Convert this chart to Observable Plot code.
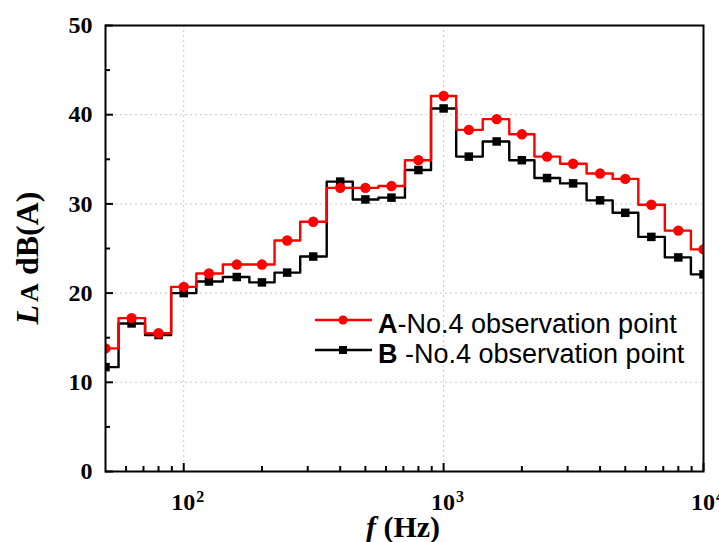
<!DOCTYPE html>
<html>
<head>
<meta charset="utf-8">
<script src="https://cdn.jsdelivr.net/npm/d3@7"></script>
<script src="https://cdn.jsdelivr.net/npm/@observablehq/plot@0.6"></script>
<style>
  html, body { margin: 0; padding: 0; background: #fff; }
  svg { display: block; }
  g[aria-label="y-axis tick label"], g[aria-label="x-axis tick label"],
  g[aria-label="y-axis tick label"] text, g[aria-label="x-axis tick label"] text {
    font-family: 'Liberation Serif', 'Times New Roman', serif !important;
    font-size: 24px !important;
    font-weight: bold !important;
  }
</style>
</head>
<body>
<div id="chart"></div>
<script>
// 1/3-octave band centre frequencies (Hz)
const freqs = [50, 63, 80, 100, 125, 160, 200, 250, 315, 400, 500, 630, 800, 1000, 1250, 1600, 2000, 2500, 3150, 4000, 5000, 6300, 8000, 10000];
// A-No.4 observation point, dB(A)
const seriesA = [13.8, 17.2, 15.5, 20.7, 22.2, 23.2, 23.2, 25.9, 28.0, 31.8, 31.8, 32.0, 34.9, 42.1, 38.3, 39.5, 37.8, 35.3, 34.5, 33.4, 32.8, 29.9, 27.0, 24.9];
// B-No.4 observation point, dB(A)
const seriesB = [11.7, 16.6, 15.3, 20.0, 21.3, 21.8, 21.2, 22.3, 24.1, 32.5, 30.5, 30.7, 33.8, 40.7, 35.3, 37.0, 34.9, 32.9, 32.3, 30.4, 29.0, 26.3, 24.0, 22.1];
const seriesNames = ["A", "B"];
const legendLabels = ["-No.4 observation point", " -No.4 observation point"];

const yTicks = [0, 10, 20, 30, 40, 50];
const yMinorTicks = [5, 15, 25, 35, 45];
const yGrid = [10, 20, 30, 40];
const xTicks = [100, 1000, 10000];
const xTickBase = "10";
const xTickExponents = ["2", "3", "4"];
const xMinorTicks = [60, 70, 80, 90, 200, 300, 400, 500, 600, 700, 800, 900, 2000, 3000, 4000, 5000, 6000, 7000, 8000, 9000];
const xGrid = [100, 1000];

const dataA = freqs.map((f, i) => ({f, v: seriesA[i]}));
const dataB = freqs.map((f, i) => ({f, v: seriesB[i]}));

const serif = "'Liberation Serif', 'Times New Roman', serif";
const sans = "'Liberation Sans', Arial, sans-serif";

const plot = Plot.plot({
  width: 719,
  height: 542,
  marginLeft: 105,
  marginRight: 16,
  marginTop: 25,
  marginBottom: 71,
  style: {background: "#fff", color: "#000", overflow: "visible"},
  x: {type: "log", domain: [50, 10000], label: null},
  y: {domain: [0, 50], label: null},
  marks: [
    Plot.ruleY(yGrid, {stroke: "#c8c8c8", strokeDasharray: "2,3", strokeWidth: 1}),
    Plot.ruleX(xGrid, {stroke: "#c8c8c8", strokeDasharray: "2,3", strokeWidth: 1}),
    Plot.line(dataB, {x: "f", y: "v", curve: "step", stroke: "#000", strokeWidth: 2.4, clip: true}),
    Plot.dot(dataB, {x: "f", y: "v", symbol: "square", r: 4.8, fill: "#000", stroke: "none", clip: true}),
    Plot.line(dataA, {x: "f", y: "v", curve: "step", stroke: "#ff0000", strokeWidth: 2.4, clip: true}),
    Plot.dot(dataA, {x: "f", y: "v", symbol: "circle", r: 5.2, fill: "#ff0000", stroke: "none", clip: true}),
    Plot.frame({stroke: "#000", strokeWidth: 2}),
    Plot.axisY(yTicks, {tickSize: -8, tickFormat: () => "", strokeWidth: 2, label: null}),
    Plot.axisY(yMinorTicks, {tickSize: -5, tickFormat: () => "", strokeWidth: 2, label: null}),
    Plot.axisY(yTicks, {tickSize: 0, tickPadding: 13, tickFormat: d => String(d), label: null}),
    Plot.axisX(xTicks, {tickSize: -8, tickFormat: () => "", strokeWidth: 2, label: null}),
    Plot.axisX(xMinorTicks, {tickSize: -5, tickFormat: () => "", strokeWidth: 2, label: null}),
    Plot.axisX(xTicks, {tickSize: 0, tickPadding: 21, label: null,
      tickFormat: d => xTickBase + "^" + xTickExponents[xTicks.indexOf(d)]})
  ]
});

document.getElementById("chart").appendChild(plot);

const svg = d3.select(plot);

// Turn "10^n" tick labels into 10 with a superscript exponent
svg.selectAll('g[aria-label="x-axis tick label"] text').each(function() {
  const el = d3.select(this);
  const s = el.text();
  if (!s.includes("^")) return;
  const [base, exp] = s.split("^");
  el.text(null);
  el.append("tspan").text(base);
  el.append("tspan").attr("dy", "-0.45em").attr("dx", "1").style("font-size", "16px").text(exp);
  el.attr("dx", 4);
});

// Y axis title: L_A dB(A)
const yt = svg.append("text")
  .attr("transform", "translate(38,258) rotate(-90)")
  .attr("text-anchor", "middle")
  .attr("font-family", serif)
  .attr("font-weight", "bold")
  .attr("font-size", 32)
  .attr("fill", "#000");
yt.append("tspan").attr("font-style", "italic").text("L");
yt.append("tspan").attr("font-size", 26).attr("dx", 3).text("A");
yt.append("tspan").text(" dB(A)");

// X axis title: f (Hz)
const xt = svg.append("text")
  .attr("x", 403).attr("y", 537)
  .attr("text-anchor", "middle")
  .attr("font-family", serif)
  .attr("font-weight", "bold")
  .attr("font-size", 30)
  .attr("fill", "#000");
xt.append("tspan").attr("font-style", "italic").text("f");
xt.append("tspan").text(" (Hz)");

// Legend
const legendColors = ["#ff0000", "#000"];
const legendY = [320, 350];
seriesNames.forEach((name, i) => {
  const g = svg.append("g");
  g.append("line").attr("x1", 315).attr("x2", 372).attr("y1", legendY[i]).attr("y2", legendY[i])
    .attr("stroke", legendColors[i]).attr("stroke-width", 2.4);
  if (i === 0) {
    g.append("circle").attr("cx", 343).attr("cy", legendY[i]).attr("r", 4.5).attr("fill", legendColors[i]);
  } else {
    g.append("rect").attr("x", 339).attr("y", legendY[i] - 4).attr("width", 8).attr("height", 8).attr("fill", legendColors[i]);
  }
  const t = g.append("text").attr("x", 378).attr("y", legendY[i] + 13)
    .attr("text-anchor", "start")
    .attr("font-family", sans).attr("font-size", 27).attr("fill", "#000");
  t.append("tspan").attr("font-weight", "bold").text(name);
  t.append("tspan").text(legendLabels[i]);
});
</script>
</body>
</html>
